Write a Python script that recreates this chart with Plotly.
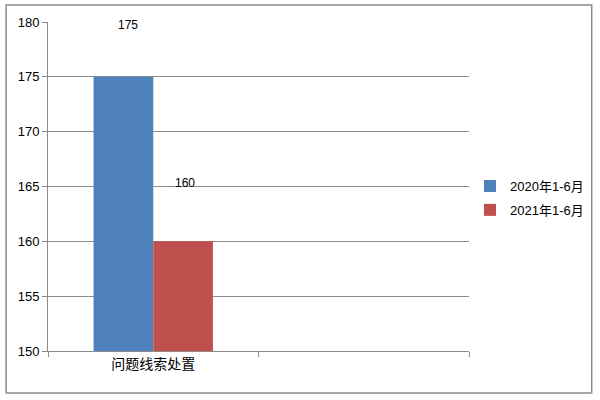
import plotly.graph_objects as go

categories = ["问题线索处置", " "]
series_names = ["2020年1-6月", "2021年1-6月"]
values_2020 = [175, None]
values_2021 = [160, None]
label_shift = [52, 58]

colors = ["#4F81BD", "#C0504D"]
font_fam = "Liberation Sans, Noto Sans CJK SC, sans-serif"

fig = go.Figure()
for name, vals, c in zip(series_names, [values_2020, values_2021], colors):
    fig.add_trace(go.Bar(x=categories, y=vals, name=name, marker_color=c,
                         marker_line_width=0, legendgroup=name))

# data labels sit well above the bars, as in the original
for i, (name, vals) in enumerate(zip(series_names, [values_2020, values_2021])):
    fig.add_annotation(x=categories[0], y=vals[0], text=str(vals[0]),
                       showarrow=False, xshift=(-25 if i == 0 else 32),
                       yshift=label_shift[i], font=dict(size=12, color="black"))

fig.update_layout(
    width=600, height=400,
    margin=dict(l=48, r=130, t=22, b=49),
    plot_bgcolor="white", paper_bgcolor="white",
    font=dict(family=font_fam, size=12, color="black"),
    barmode="group", bargap=0.433, bargroupgap=0,
    showlegend=True,
    legend=dict(x=1.0, y=0.465, xanchor="left", yanchor="middle",
                font=dict(size=13), itemwidth=30, tracegroupgap=4),
)
fig.update_yaxes(range=[150, 180], dtick=5, showgrid=True, gridcolor="#8c8c8c",
                 gridwidth=1, showline=True, linecolor="#8c8c8c", ticks="outside",
                 ticklen=5, tickcolor="#8c8c8c", zeroline=False,
                 tickfont=dict(size=13))
fig.update_xaxes(tickson="boundaries", showgrid=False, showline=True,
                 linecolor="#8c8c8c", ticks="outside", ticklen=5,
                 tickcolor="#8c8c8c", tickfont=dict(size=14))

# outer chart frame
fig.add_shape(type="rect", xref="paper", yref="paper",
              x0=-0.0995, x1=1.2915, y0=-0.1277, y1=1.0517,
              line=dict(color="#8c8c8c", width=1.5))

# drop the default 8px page margin so the figure sits at the top-left corner
fig.write_html("out.html", config={"displayModeBar": False},
               post_script="document.body.style.margin='0';")
